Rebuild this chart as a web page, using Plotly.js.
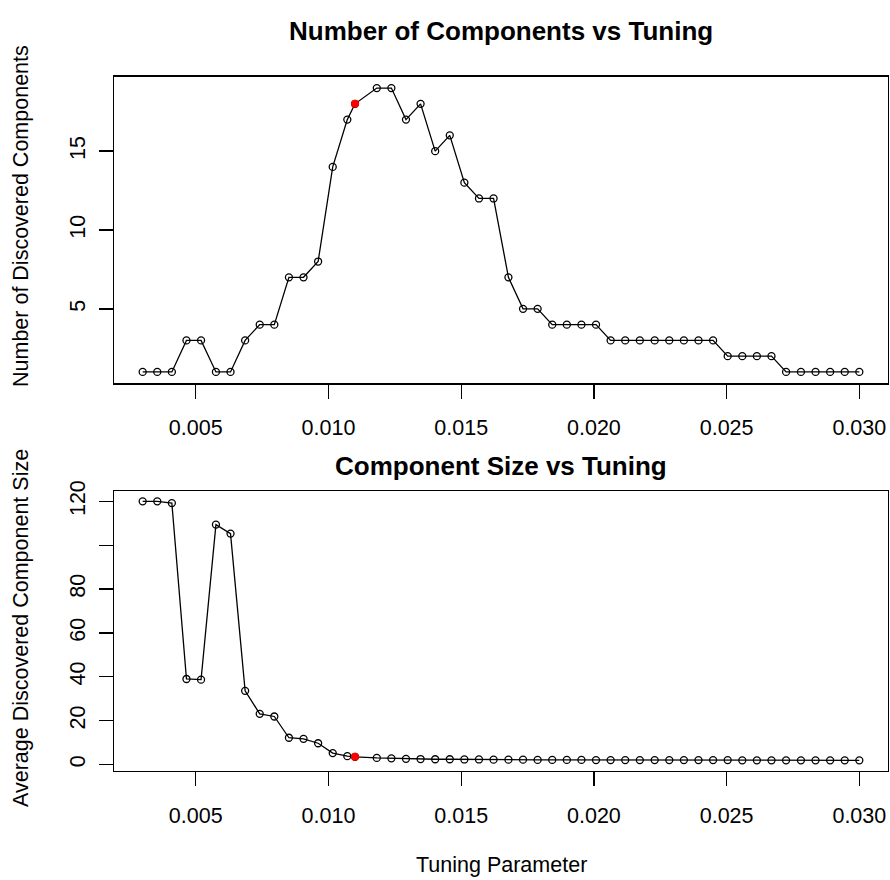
<!DOCTYPE html>
<html>
<head>
<meta charset="utf-8">
<script src="https://cdn.plot.ly/plotly-3.0.1.min.js"></script>
<style>html,body{margin:0;padding:0;background:#fff}#chart{width:890px;height:880px}</style>
</head>
<body>
<div id="chart"></div>
<script>
// Tuning parameter values (x)
const tuning = [0.00300,0.00355,0.00410,0.00465,0.00520,0.00576,0.00631,0.00686,0.00741,0.00796,
                0.00851,0.00906,0.00961,0.01016,0.01071,0.01100,0.01182,0.01237,0.01292,0.01347,
                0.01402,0.01457,0.01512,0.01567,0.01622,0.01678,0.01733,0.01788,0.01843,0.01898,
                0.01953,0.02008,0.02063,0.02118,0.02173,0.02229,0.02284,0.02339,0.02394,0.02449,
                0.02504,0.02559,0.02614,0.02669,0.02724,0.02780,0.02835,0.02890,0.02945,0.03000];
// Number of discovered components
const nComponents = [1,1,1,3,3,1,1,3,4,4,
                     7,7,8,14,17,18,19,19,17,18,
                     15,16,13,12,12,7,5,5,4,4,
                     4,4,3,3,3,3,3,3,3,3,
                     2,2,2,2,1,1,1,1,1,1];
// Average discovered component size
const avgSize = [120,120,119.2,39.0,38.7,109.4,105.3,33.6,23.1,21.9,
                 12.2,11.7,9.7,5.2,3.8,3.5,3.0,2.8,2.6,2.5,
                 2.4,2.4,2.3,2.3,2.2,2.2,2.2,2.1,2.1,2.1,
                 2.1,2.0,2.0,2.0,2.0,2.0,2.0,2.0,2.0,2.0,
                 2.0,1.9,1.9,1.9,1.9,1.9,1.9,1.9,1.9,1.9];
const selectedIndex = 15;
const xTicks = [0.005,0.010,0.015,0.020,0.025,0.030];
const xTickText = ["0.005","0.010","0.015","0.020","0.025","0.030"];
const topYTicks = [5,10,15];
const topYTickText = ["5","10","15"];
const botYTicks = [0,20,40,60,80,100,120];
const botYTickText = ["0","20","40","60","80","","120"];

function padRange(arr){
  const mn = Math.min(...arr), mx = Math.max(...arr), d = (mx-mn)*0.04;
  return [mn-d, mx+d];
}

const FONT = "Liberation Sans, Arial, Helvetica, sans-serif";
const FS = 21.5;
const lineStyle = {color:'#000', width:1.3};
const markerStyle = {symbol:'circle-open', size:7, color:'#000', line:{color:'#000', width:1.3}};

const traces = [
  {x:tuning, y:nComponents, xaxis:'x', yaxis:'y', mode:'lines+markers', line:lineStyle, marker:markerStyle},
  {x:[tuning[selectedIndex]], y:[nComponents[selectedIndex]], xaxis:'x', yaxis:'y', mode:'markers',
   marker:{symbol:'circle', size:8, color:'#ff0000'}},
  {x:tuning, y:avgSize, xaxis:'x2', yaxis:'y2', mode:'lines+markers', line:lineStyle, marker:markerStyle},
  {x:[tuning[selectedIndex]], y:[avgSize[selectedIndex]], xaxis:'x2', yaxis:'y2', mode:'markers',
   marker:{symbol:'circle', size:8, color:'#ff0000'}}
];

const xr = padRange(tuning);
const baseX = {
  range: xr, showgrid:false, zeroline:false, showline:true, mirror:true, linecolor:'#000', linewidth:1.3,
  ticks:'outside', ticklen:14, tickwidth:1.3, tickcolor:'#000',
  tickvals:xTicks, ticktext:xTickText, tickfont:{family:FONT, size:FS, color:'#000'},
  ticklabelstandoff:11
};
const baseY = {
  showgrid:false, zeroline:false, showline:true, mirror:true, linecolor:'#000', linewidth:1.3,
  ticks:'outside', ticklen:14, tickwidth:1.3, tickcolor:'#000', tickangle:-90,
  tickfont:{family:FONT, size:FS, color:'#000'}, ticklabelstandoff:5
};

const H = 880, L = 114, R = 2, W = 890 - L - R;
function py(px){ return 1 - px/H; }
function pxX(px){ return (px - L)/W; }

const layout = {
  width:890, height:880, showlegend:false,
  paper_bgcolor:'#fff', plot_bgcolor:'#fff',
  margin:{l:L, r:R, t:0, b:0, pad:0},
  font:{family:FONT, color:'#000'},
  xaxis: Object.assign({}, baseX, {domain:[0,1], anchor:'y'}),
  yaxis: Object.assign({}, baseY, {domain:[py(383.3), py(76.7)], anchor:'x',
          range:padRange(nComponents), tickvals:topYTicks, ticktext:topYTickText}),
  xaxis2: Object.assign({}, baseX, {domain:[0,1], anchor:'y2'}),
  yaxis2: Object.assign({}, baseY, {domain:[py(770.7), py(491)], anchor:'x2',
          range:padRange(avgSize), tickvals:botYTicks, ticktext:botYTickText}),
  annotations:[
    {text:'<b>Number of Components vs Tuning</b>', xref:'paper', yref:'paper', x:0.5, y:py(31),
     xanchor:'center', yanchor:'middle', showarrow:false, font:{family:FONT, size:26, color:'#000'}},
    {text:'<b>Component Size vs Tuning</b>', xref:'paper', yref:'paper', x:0.5, y:py(466),
     xanchor:'center', yanchor:'middle', showarrow:false, font:{family:FONT, size:26, color:'#000'}},
    {text:'Number of Discovered Components', xref:'paper', yref:'paper', x:pxX(21), y:py(216),
     xanchor:'center', yanchor:'middle', textangle:-90, showarrow:false, font:{family:FONT, size:FS, color:'#000'}},
    {text:'Average Discovered Component Size', xref:'paper', yref:'paper', x:pxX(21), y:py(628),
     xanchor:'center', yanchor:'middle', textangle:-90, showarrow:false, font:{family:FONT, size:FS, color:'#000'}},
    {text:'Tuning Parameter', xref:'paper', yref:'paper', x:0.5, y:py(865),
     xanchor:'center', yanchor:'middle', showarrow:false, font:{family:FONT, size:FS, color:'#000'}}
  ]
};

Plotly.newPlot('chart', traces, layout, {displayModeBar:false, staticPlot:true});
</script>
</body>
</html>
